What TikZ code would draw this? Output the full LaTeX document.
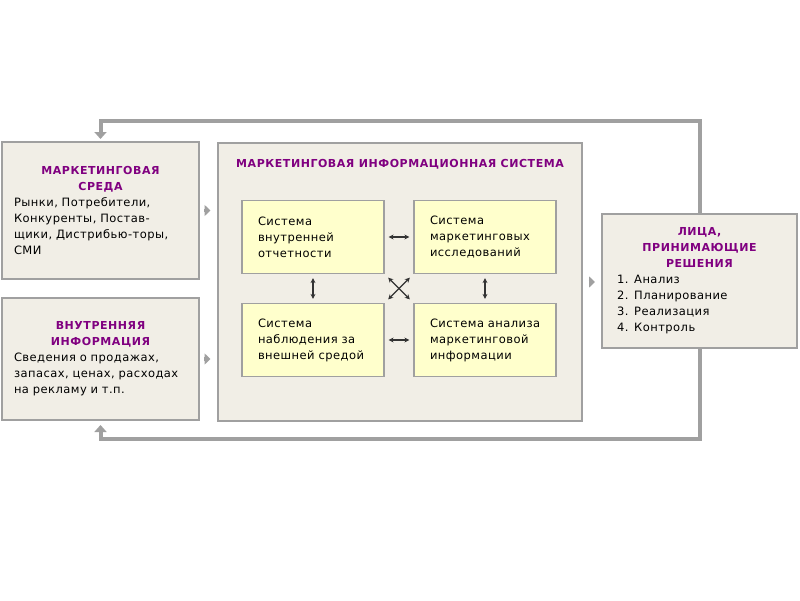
\documentclass[tikz,border=0pt]{standalone}
\usepackage{fontspec}
\setmainfont{DejaVu Sans}[LetterSpace=4]
\newfontfamily\ttlfont{DejaVu Sans}[LetterSpace=5]
\usetikzlibrary{arrows.meta}
\definecolor{boxfill}{HTML}{F1EEE6}
\definecolor{sysfill}{HTML}{FFFFCC}
\definecolor{rim}{HTML}{A0A0A0}
\definecolor{ttlcol}{HTML}{800080}
\newcommand{\ttl}[1]{{\ttlfont\bfseries\fontsize{11}{16}\selectfont\color{ttlcol}#1}}

\begin{document}
\begin{tikzpicture}[x=1pt,y=-1pt,font=\fontsize{11.5}{16}\selectfont,
  outer/.style={draw=rim,line width=2pt,fill=boxfill,inner sep=0pt,align=left},
  sys/.style={draw=rim,line width=1.2pt,fill=sysfill,inner sep=0pt,
    minimum width=142,minimum height=73,text width=110,align=left},
  feed/.style={rim,line width=4pt,-{Triangle[width=12pt,length=7pt]}},
  flow/.style={rim,line width=3.5pt,-{Triangle[width=11pt,length=6pt]}},
  both/.style={black!80,line width=1.2pt,{Stealth[length=5pt,width=5pt]}-{Stealth[length=5pt,width=5pt]}}]
\useasboundingbox[fill=white] (0,0) rectangle (800,600);
% left column
\node[outer,minimum width=197,minimum height=137,text width=173] (env) at (100.5,210.5)
  {{\centering\ttl{МАРКЕТИНГОВАЯ\\СРЕДА}\par}
   Рынки, Потребители,\\Конкуренты, Постав-\\щики, Дистрибью-торы,\\СМИ};
\node[outer,minimum width=197,minimum height=122,text width=173] (inf) at (100.5,359)
  {{\centering\ttl{ВНУТРЕННЯЯ\\ИНФОРМАЦИЯ}\par}
   Сведения о продажах,\\запасах, ценах, расходах\\на рекламу и т.п.};
% the system
\node[outer,minimum width=364,minimum height=278] (mis) at (399.5,282) {};
\node[anchor=base west,inner sep=0pt] (mistitle) at (236,167)
  {\ttl{МАРКЕТИНГОВАЯ ИНФОРМАЦИОННАЯ СИСТЕМА}};
\node[sys] (irs) at (313,237) {Система\\внутренней\\отчетности};
\node[sys] (mrs) at (485,237) {Система\\маркетинговых\\исследований};
\node[sys] (ens) at (313,340) {Система\\наблюдения за\\внешней средой};
\node[sys] (ana) at (485,340) {\mbox{Система анализа}\\маркетинговой\\информации};
% decision makers
\node[outer,minimum width=195,minimum height=134,text width=165] (dm) at (699.5,281)
  {{\centering\ttl{ЛИЦА,\\ПРИНИМАЮЩИЕ\\РЕШЕНИЯ}\par}
   1. Анализ\\2. Планирование\\3. Реализация\\4. Контроль};
% links inside
\draw[both,shorten <=4,shorten >=4] (irs) -- (mrs);
\draw[both,shorten <=4,shorten >=4] (ens) -- (ana);
\draw[both,shorten <=4,shorten >=4] (irs) -- (ens);
\draw[both,shorten <=4,shorten >=4] (mrs) -- (ana);
\draw[both,shorten <=5,shorten >=5] (irs.south east) -- (ana.north west);
\draw[both,shorten <=5,shorten >=5] (mrs.south west) -- (ens.north east);
% flows
\draw[flow,shorten <=4,shorten >=6] (env.east) -- (env.east -| mis.west);
\draw[flow,shorten <=4,shorten >=6] (inf.east) -- (inf.east -| mis.west);
\draw[flow,shorten <=6,shorten >=6] (mis.east) -- (mis.east -| dm.west);
\draw[feed,shorten >=2] (dm.north) -- ++(0,-92) -| (env.north);
\draw[feed,shorten >=4] (dm.south) -- ++(0,90) -| (inf.south);
\end{tikzpicture}
\end{document}
